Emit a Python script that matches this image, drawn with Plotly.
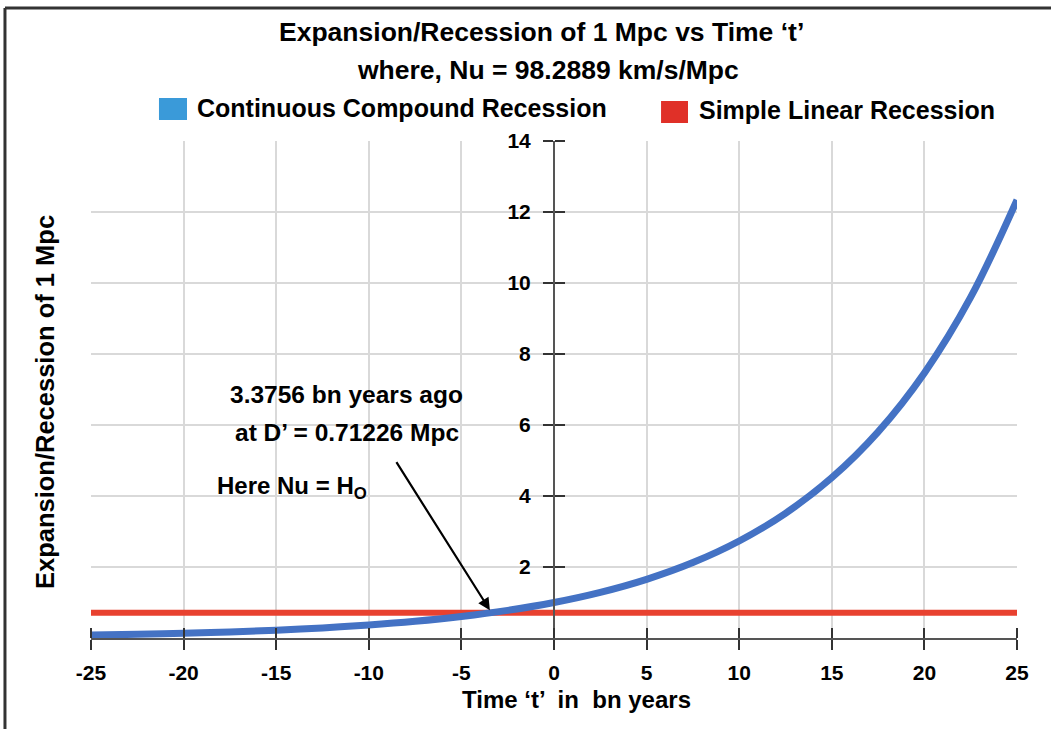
import plotly.graph_objects as go

# ---- data ----
time_bn = [-25, -22.5, -20, -17.5, -15, -12.5, -10, -7.5, -5, -2.5, 0,
           2.5, 5, 7.5, 10, 12.5, 15, 17.5, 20, 22.5, 25]
compound = [0.081, 0.104, 0.134, 0.172, 0.221, 0.285, 0.366, 0.470, 0.605, 0.778, 1.0,
            1.286, 1.653, 2.125, 2.733, 3.513, 4.517, 5.808, 7.467, 9.600, 12.34]
linear_t = [-25, 25]
linear_d = [0.71226, 0.71226]
cross_t = -3.3756
cross_d = 0.71226
x_ticks = [-25, -20, -15, -10, -5, 0, 5, 10, 15, 20, 25]
x_grid = [-25, -20, -15, -10, -5, 5, 10, 15, 20]
y_ticks = [2, 4, 6, 8, 10, 12, 14]

FONT = "Arial, 'Liberation Sans', sans-serif"
BLUE_LINE = "#4472C4"
RED_LINE = "#E8412F"
AX = "#555555"
GRID = "#d9d9d9"

fig = go.Figure()
# helper traces for the grid / crossing tick axes
fig.add_trace(go.Scatter(x=[None], y=[None], xaxis="x3", yaxis="y2",
                         showlegend=False, hoverinfo="skip"))
fig.add_trace(go.Scatter(x=[None], y=[None], xaxis="x2", yaxis="y2",
                         showlegend=False, hoverinfo="skip"))
fig.add_trace(go.Scatter(x=linear_t, y=linear_d, mode="lines",
                         line=dict(color=RED_LINE, width=6), showlegend=False,
                         name="Simple Linear Recession"))
fig.add_trace(go.Scatter(x=time_bn, y=compound, mode="lines", line_shape="spline",
                         line=dict(color=BLUE_LINE, width=7), showlegend=False,
                         name="Continuous Compound Recession"))

tickfont = dict(family=FONT, size=21, color="black", weight="bold")

fig.update_layout(
    width=1051, height=729,
    margin=dict(l=91, r=34, t=141, b=91),
    paper_bgcolor="white", plot_bgcolor="white",
    showlegend=False,
    xaxis=dict(range=[-25, 25], domain=[0, 1], tickvals=x_ticks,
               ticktext=[str(v) for v in x_ticks],
               showgrid=False,
               zeroline=False, showline=True, linecolor=AX, linewidth=2,
               ticks="outside", ticklen=10, tickwidth=2, tickcolor="#333",
               tickfont=tickfont, ticklabelstandoff=5),
    xaxis2=dict(range=[-25, 25], overlaying="x", side="top", anchor="free",
                position=0, tickvals=x_ticks, showticklabels=False,
                showgrid=False, zeroline=False, showline=False,
                ticks="outside", ticklen=10, tickwidth=2, tickcolor="#333"),
    xaxis3=dict(range=[-25, 25], overlaying="x", tickvals=x_grid,
                showticklabels=False, ticks="", showline=False, zeroline=False,
                showgrid=True, gridcolor=GRID, gridwidth=1.5, layer="below traces"),
    yaxis=dict(range=[0, 14], domain=[0, 1], tickvals=y_ticks,
               showgrid=True, gridcolor=GRID, gridwidth=1.5,
               zeroline=False, showline=True, linecolor=AX, linewidth=2,
               anchor="free", position=0.5,
               ticks="outside", ticklen=10, tickwidth=2, tickcolor="#333",
               tickfont=tickfont, ticklabelstandoff=8),
    yaxis2=dict(range=[0, 14], overlaying="y", side="right", anchor="free",
                position=0.5, tickvals=y_ticks, showticklabels=False,
                showgrid=False, zeroline=False, showline=False,
                ticks="outside", ticklen=10, tickwidth=2, tickcolor="#333"),
)

ann = []
def txt(text, x, y, size, xref="paper", yref="paper", xanchor="center", angle=0):
    ann.append(dict(text=text, x=x, y=y, xref=xref, yref=yref, showarrow=False,
                    xanchor=xanchor, yanchor="middle", textangle=angle,
                    font=dict(family=FONT, size=size, color="black", weight="bold")))

txt("Expansion/Recession of 1 Mpc vs Time \u2018t\u2019", 0.4865, 1.2193, 26.5)
txt("where, Nu = 98.2889 km/s/Mpc", 0.493, 1.1429, 26.5)
txt("Continuous Compound Recession", 0.1123, 1.0664, 25, xanchor="left")
txt("Simple Linear Recession", 0.6544, 1.0624, 25, xanchor="left")
txt("Time \u2018t\u2019  in  bn years", 0.5238, -0.1247, 24)
txt("Expansion/Recession of 1 Mpc", -0.0497, 0.4748, 25.5, angle=-90)
txt("3.3756 bn years ago", -11.18, 6.85, 24.5, xref="x", yref="y")
txt("at D\u2019 = 0.71226 Mpc", -11.18, 5.80, 24.5, xref="x", yref="y")
txt("Here Nu = H<sub>O</sub>", -18.3, 4.23, 24, xref="x", yref="y", xanchor="left")

ann.append(dict(x=cross_t, y=cross_d, xref="x", yref="y", text="", showarrow=True,
                ax=-96, ay=-152, arrowhead=2, arrowsize=1.1, arrowwidth=2.2,
                arrowcolor="black", standoff=3))
fig.update_layout(annotations=ann)

shapes = [
    # legend swatches
    dict(type="rect", xref="paper", yref="paper", x0=0.0734, x1=0.1037,
         y0=1.0423, y1=1.0865, fillcolor="#3A9AD9", line=dict(width=0)),
    dict(type="rect", xref="paper", yref="paper", x0=0.6156, x1=0.6447,
         y0=1.0362, y1=1.0805, fillcolor="#E03028", line=dict(width=0)),
    # outer frame (top and left)
    dict(type="line", xref="paper", yref="paper", x0=-0.0929, x1=1.04,
         y0=1.2676, y1=1.2676, line=dict(color="#333", width=3)),
    dict(type="line", xref="paper", yref="paper", x0=-0.0929, x1=-0.0929,
         y0=1.2676, y1=-0.19, line=dict(color="#333", width=3)),
]
fig.update_layout(shapes=shapes)

fig.write_html("out.html")
